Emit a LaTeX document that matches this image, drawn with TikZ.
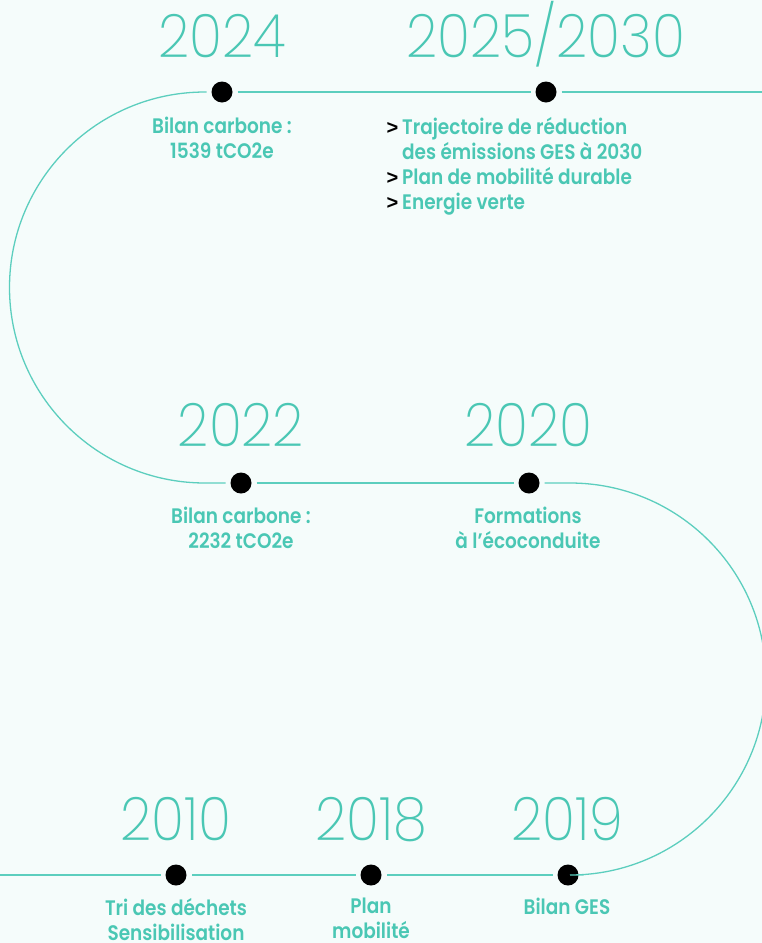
\documentclass[tikz,border=0pt]{standalone}
\usepackage{fontspec}
\setmainfont{Poppins}
\IfFontExistsTF{Poppins ExtraLight}{\newfontfamily\yearfont{Poppins ExtraLight}[FakeStretch=0.91]}{\IfFontExistsTF{Poppins Light}{\newfontfamily\yearfont{Poppins Light}[FakeStretch=0.91]}{\newfontfamily\yearfont{Poppins}[FakeStretch=0.91]}}
\IfFontExistsTF{Poppins SemiBold}{\newfontfamily\labfont{Poppins SemiBold}[FakeStretch=0.88]}{\IfFontExistsTF{Poppins Medium}{\newfontfamily\labfont{Poppins Medium}[FakeStretch=0.88]}{\newfontfamily\labfont{Poppins}[FakeStretch=0.88]}}
\newfontfamily\chevfont{Liberation Sans}
\definecolor{bgc}{RGB}{245,252,251}
\definecolor{tealc}{RGB}{74,199,180}
\definecolor{linec}{RGB}{92,206,190}
\newcommand\chevr{\llap{\textcolor{black}{\chevfont\bfseries\fontsize{20}{25}\selectfont >}\hspace{4pt}}}
\begin{document}
\begin{tikzpicture}[x=1pt,y=-1pt,
  dot/.style={circle,fill=black,inner sep=0pt,minimum size=21pt,outer sep=5pt},
  tl/.style={draw=linec,line width=1.3pt},
  year/.style={font=\yearfont\fontsize{60}{60}\selectfont,text=tealc,anchor=base,inner sep=0pt},
  lab/.style={font=\labfont\fontsize{21}{25}\selectfont,text=tealc,align=center,anchor=north,inner sep=0pt}]
\fill[bgc] (0,0) rectangle (762,943);
\useasboundingbox (0,0) rectangle (762,943);
% dots
\node[dot] (d2024) at (222,92) {};
\node[dot] (d2025) at (546,92) {};
\node[dot] (d2022) at (241,483) {};
\node[dot] (d2020) at (529,483) {};
\node[dot] (d2010) at (176,875) {};
\node[dot] (d2018) at (371,875) {};
\node[dot] (d2019) at (568,875) {};
\coordinate (tlft) at (205,92);
\coordinate (mrt) at (570,483);
\coordinate (tre) at (764,92);
\coordinate (blf) at (-2,875);
% line
\draw[tl] (d2024) -- (tlft) arc[start angle=270,end angle=90,radius=195.5] -- (d2022);
\draw[tl] (d2024) -- (d2025);
\draw[tl] (d2025) -- (tre);
\draw[tl] (d2022) -- (d2020);
\draw[tl] (d2020) -- (mrt) arc[start angle=-90,end angle=90,radius=196] -- (d2019);
\draw[tl] (d2019) -- (d2018);
\draw[tl] (d2018) -- (d2010);
\draw[tl] (d2010) -- (blf);
% years
\node[year] (y2024) at (222,57) {2024};
\node[year] (y2025) at (546,57) {2025/2030};
\node[year] (y2022) at (241,446) {2022};
\node[year] (y2020) at (528,446) {2020};
\node[year] (y2010) at (176,840) {2010};
\node[year] (y2018) at (371,840) {2018};
\node[year] (y2019) at (567,840) {2019};
% labels
\node[lab] (l2024) at (222,116.5) {Bilan carbone :\\1539 tCO2e};
\node[lab] (l2022) at (241,507) {Bilan carbone :\\2232 tCO2e};
\node[lab] (l2020) at (528,507) {Formations\\à l’écoconduite};
\node[lab] (l2010) at (176,898) {Tri des déchets\\Sensibilisation};
\node[lab] (l2018) at (371,898) {Plan\\mobilité};
\node[lab] (l2019) at (567,898) {Bilan GES};
\node[lab,align=left,anchor=north west] (l2025) at (402,117) {\chevr Trajectoire de réduction\\des émissions GES à 2030\\\chevr Plan de mobilité durable\\\chevr Energie verte};
\end{tikzpicture}
\end{document}
